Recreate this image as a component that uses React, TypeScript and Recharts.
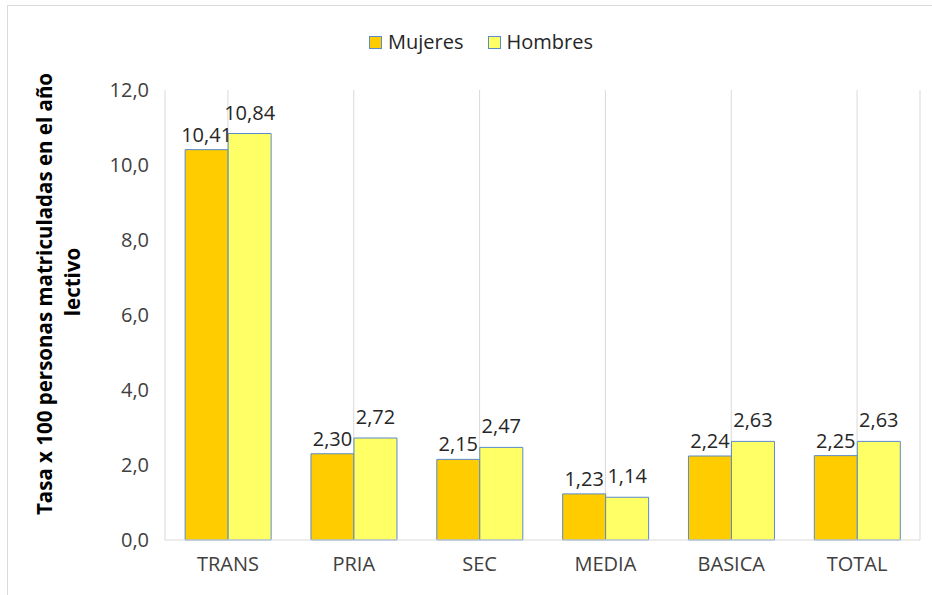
import React from "react";
import { BarChart, Bar, XAxis, YAxis, CartesianGrid, Legend, LabelList } from "recharts";

const niveles = ["TRANS", "PRIA", "SEC", "MEDIA", "BASICA", "TOTAL"];
const mujeres = [10.41, 2.3, 2.15, 1.23, 2.24, 2.25];
const hombres = [10.84, 2.72, 2.47, 1.14, 2.63, 2.63];
const yTicks = [0, 2, 4, 6, 8, 10, 12];

const data = niveles.map((nivel, i) => ({ nivel, mujeres: mujeres[i], hombres: hombres[i] }));

const FONT = "'Open Sans', sans-serif";
const TXT = "#404040";
const coma = (v: number, d: number) => v.toFixed(d).replace(".", ",");

const LegendBox = () => (
  <div style={{ display: "flex", justifyContent: "center", gap: 24, paddingLeft: 30, fontFamily: FONT, fontSize: 20, lineHeight: "26px", color: "#262626" }}>
    {[
      ["Mujeres", "#ffcc00"],
      ["Hombres", "#ffff66"],
    ].map(([name, c]) => (
      <div key={name} style={{ display: "flex", alignItems: "center", gap: 6 }}>
        <span style={{ width: 11, height: 11, background: c, border: "1px solid #5b8bc9", display: "inline-block" }} />
        {name}
      </div>
    ))}
  </div>
);

const YTitle = () => (
  <g fontFamily={FONT} fontWeight="bold" fontSize={20.5} fill="#000">
    <text transform="translate(52,294) rotate(-90)" textAnchor="middle">
      Tasa x 100 personas matriculadas en el año
    </text>
    <text transform="translate(80,282) rotate(-90)" textAnchor="middle">
      lectivo
    </text>
  </g>
);

export default function App() {
  return (
    <div style={{ position: "absolute", left: 0, top: 0, width: 932, height: 595, background: "#fff" }}>
      <div style={{ position: "absolute", left: 7, top: 5, width: 930, height: 595, border: "1px solid #d9d9d9" }} />
      <BarChart
        width={932}
        height={595}
        data={data}
        margin={{ top: 64, right: 12, bottom: 25, left: 105 }}
        barCategoryGap="16%"
        barGap={0}
        style={{ position: "absolute", left: 0, top: 0 }}
      >
        <CartesianGrid horizontal={false} stroke="#d9d9d9" />
        <XAxis
          dataKey="nivel"
          height={30}
          tickLine={false}
          axisLine={{ stroke: "#d9d9d9" }}
          tick={{ fill: TXT, fontSize: 20, fontFamily: FONT }}
          tickMargin={11}
        />
        <YAxis
          width={60}
          domain={[0, 12]}
          ticks={yTicks}
          tickFormatter={(v: number) => coma(v, 1)}
          axisLine={false}
          tickLine={false}
          tick={{ fill: TXT, fontSize: 20, fontFamily: FONT }}
          tickMargin={10}
        />
        <Legend verticalAlign="top" content={() => <LegendBox />} wrapperStyle={{ top: 29, left: 0, width: 932 }} />
        <Bar dataKey="mujeres" name="Mujeres" fill="#ffcc00" stroke="#5b8bc9" strokeWidth={1} isAnimationActive={false}>
          <LabelList dataKey="mujeres" position="top" offset={8} formatter={(v: number) => coma(v, 2)} style={{ fill: "#262626", fontSize: 20, fontFamily: FONT }} />
        </Bar>
        <Bar dataKey="hombres" name="Hombres" fill="#ffff66" stroke="#5b8bc9" strokeWidth={1} isAnimationActive={false}>
          <LabelList dataKey="hombres" position="top" offset={14} formatter={(v: number) => coma(v, 2)} style={{ fill: "#262626", fontSize: 20, fontFamily: FONT }} />
        </Bar>
        <YTitle />
      </BarChart>
    </div>
  );
}
